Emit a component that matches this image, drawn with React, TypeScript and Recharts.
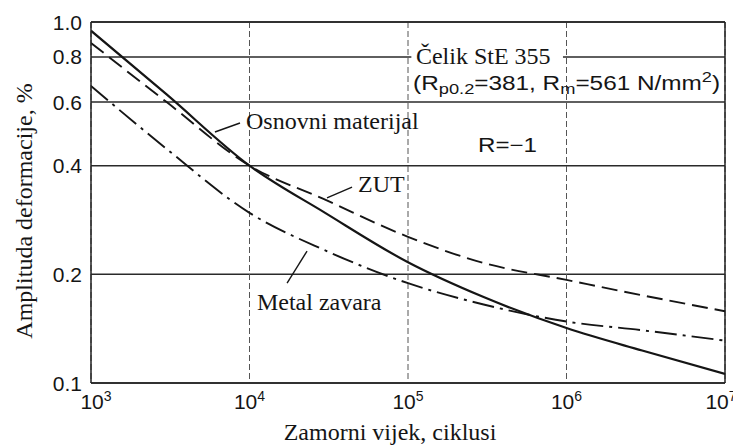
import React from 'react';
import {
  LineChart, Line, XAxis, YAxis, CartesianGrid, ReferenceLine, ReferenceDot, ReferenceArea,
} from 'recharts';

// Fatigue life (cycles)
const cycles = [1e3, 3e3, 1e4, 3e4, 1e5, 3e5, 1e6, 3e6, 1e7];
// Strain amplitude, %
const osnovniMaterijal = [0.946, 0.63, 0.40, 0.296, 0.216, 0.173, 0.142, 0.123, 0.106];
const zut = [0.875, 0.60, 0.40, 0.322, 0.254, 0.215, 0.193, 0.175, 0.158];
const metalZavara = [0.665, 0.445, 0.296, 0.233, 0.189, 0.165, 0.148, 0.140, 0.131];

const xTicks = [1e3, 1e4, 1e5, 1e6, 1e7];
const xTickExponents = ['3', '4', '5', '6', '7'];
const yTicks = [0.1, 0.2, 0.4, 0.6, 0.8, 1.0];
const yTickLabels = ['0.1', '0.2', '0.4', '0.6', '0.8', '1.0'];

const curveLabels = ['Osnovni materijal', 'ZUT', 'Metal zavara'];
const curveLabelAnchors = [[9506, 0.505], [48420, 0.338], [11140, 0.159]];
const leaderLines = [
  [[6053, 0.4957], [8710, 0.525]],
  [[30830, 0.3255], [44360, 0.349]],
  [[17260, 0.189], [23070, 0.232]],
];
const materialTitle = 'Čelik StE 355';
const materialTitleAnchor = [112200, 0.765];
const propsAnchor = [107700, 0.648];
const ratioText = 'R=−1';
const ratioAnchor = [276700, 0.436];

const data = cycles.map((n, i) => ({
  n,
  osnovni: osnovniMaterijal[i],
  zut: zut[i],
  metal: metalZavara[i],
}));

const SERIF = '"Liberation Serif", "Times New Roman", Times, serif';
const SANS = '"Liberation Sans", Arial, Helvetica, sans-serif';
const INK = '#151515';

const XTick = (props: any) => {
  const { x, y, index } = props;
  const shift = index === 0 ? 5 : index === xTicks.length - 1 ? -4 : 0;
  return (
    <text x={x + shift} y={y + 26} textAnchor="middle" fontFamily={SANS} fontSize={21} fill={INK}>
      <tspan>10</tspan>
      <tspan dy={-8} fontSize={14}>{xTickExponents[index]}</tspan>
    </text>
  );
};

const YTick = (props: any) => {
  const { x, y, index } = props;
  return (
    <text x={x - 9} y={y} dy={7.5} textAnchor="end" fontFamily={SANS} fontSize={21} fill={INK}>
      {yTickLabels[index]}
    </text>
  );
};

const serifText = (txt: string) => (p: any) => (
  <text x={p.cx} y={p.cy} fontFamily={SERIF} fontSize={24} fill={INK}>{txt}</text>
);

const propsText = (p: any) => (
  <text x={p.cx} y={p.cy} fontFamily={SANS} fontSize={20} fill={INK} textLength={307} lengthAdjust="spacingAndGlyphs">
    <tspan>(R</tspan>
    <tspan dy={4} fontSize={15}>p0.2</tspan>
    <tspan dy={-4}>=381, R</tspan>
    <tspan dy={4} fontSize={15}>m</tspan>
    <tspan dy={-4}>=561 N/mm</tspan>
    <tspan dy={-8} fontSize={15}>2</tspan>
    <tspan dy={8}>)</tspan>
  </text>
);

const ratioShape = (p: any) => (
  <text x={p.cx} y={p.cy} fontFamily={SANS} fontSize={20} fill={INK} textLength={59} lengthAdjust="spacingAndGlyphs">
    {ratioText}
  </text>
);

const XTitle = (props: any) => {
  const vb = props.viewBox || {};
  return (
    <text x={vb.x + vb.width / 2 - 18} y={vb.y + 57} textAnchor="middle" fontFamily={SERIF} fontSize={24} fill={INK}>
      Zamorni vijek, ciklusi
    </text>
  );
};

const YTitle = (props: any) => {
  const vb = props.viewBox || {};
  const cx = 24;
  const cy = vb.y + vb.height / 2 + 8.5;
  return (
    <text x={cx} y={cy} transform={`rotate(-90, ${cx}, ${cy})`} textAnchor="middle" fontFamily={SERIF} fontSize={24} fill={INK}>
      Amplituda deformacije, %
    </text>
  );
};

export default function App() {
  return (
    <div style={{ width: 733, height: 437, background: '#fff' }}>
      <LineChart width={733} height={437} data={data} margin={{ top: 14, right: 16, left: 0, bottom: 0 }}>
        <CartesianGrid vertical={false} stroke="#2a2a2a" strokeWidth={1.5} />
        <CartesianGrid horizontal={false} stroke="#555" strokeWidth={1} strokeDasharray="6 3" />
        <XAxis
          dataKey="n"
          type="number"
          scale="log"
          domain={[1e3, 1e7]}
          ticks={xTicks}
          allowDataOverflow
          height={62}
          tickLine={false}
          tickSize={0}
          tickMargin={0}
          axisLine={{ stroke: '#222', strokeWidth: 1.5 }}
          tick={<XTick />}
          interval={0}
          label={{ content: <XTitle /> }}
        />
        <YAxis
          type="number"
          scale="log"
          domain={[0.1, 1]}
          ticks={yTicks}
          allowDataOverflow
          width={83}
          tickLine={false}
          tickSize={0}
          tickMargin={0}
          axisLine={{ stroke: '#222', strokeWidth: 1.5 }}
          tick={<YTick />}
          interval={0}
          label={{ content: <YTitle /> }}
        />
        <ReferenceLine y={1} stroke="#222" strokeWidth={1.5} ifOverflow="visible" />
        <ReferenceLine x={1e7} stroke="#222" strokeWidth={1.5} ifOverflow="visible" />
        <ReferenceArea x1={1.05e5} x2={9.5e5} y1={0.75} y2={0.87} fill="#fff" fillOpacity={1} stroke="none" />

        <Line dataKey="metal" type="monotone" stroke={INK} strokeWidth={1.9} strokeDasharray="22 6 3 6" dot={false} isAnimationActive={false} />
        <Line dataKey="zut" type="monotone" stroke={INK} strokeWidth={1.9} strokeDasharray="16 7" dot={false} isAnimationActive={false} />
        <Line dataKey="osnovni" type="monotone" stroke={INK} strokeWidth={2.2} dot={false} isAnimationActive={false} />

        {leaderLines.map((seg, i) => (
          <ReferenceLine
            key={`leader-${i}`}
            segment={[{ x: seg[0][0], y: seg[0][1] }, { x: seg[1][0], y: seg[1][1] }]}
            stroke={INK}
            strokeWidth={1.4}
            ifOverflow="visible"
          />
        ))}
        {curveLabels.map((txt, i) => (
          <ReferenceDot
            key={`lab-${i}`}
            x={curveLabelAnchors[i][0]}
            y={curveLabelAnchors[i][1]}
            r={0}
            ifOverflow="visible"
            shape={serifText(txt)}
          />
        ))}
        <ReferenceDot x={materialTitleAnchor[0]} y={materialTitleAnchor[1]} r={0} ifOverflow="visible" shape={serifText(materialTitle)} />
        <ReferenceDot x={propsAnchor[0]} y={propsAnchor[1]} r={0} ifOverflow="visible" shape={propsText} />
        <ReferenceDot x={ratioAnchor[0]} y={ratioAnchor[1]} r={0} ifOverflow="visible" shape={ratioShape} />
      </LineChart>
    </div>
  );
}
